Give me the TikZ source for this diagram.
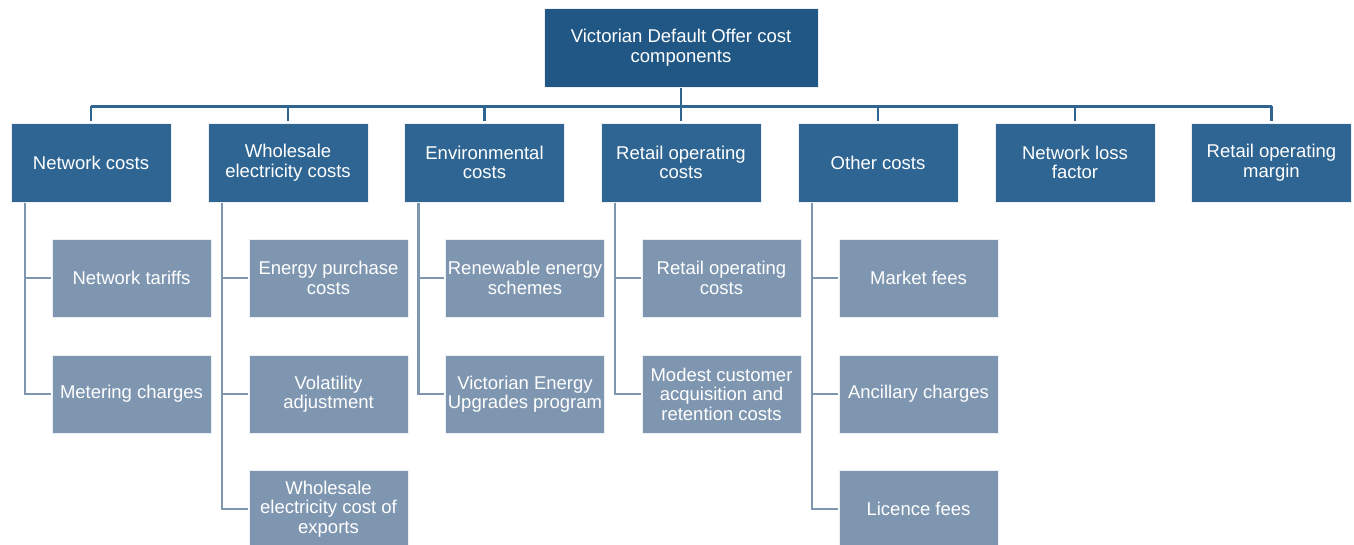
\documentclass[tikz,border=0pt]{standalone}
\usepackage{fontspec}
\setmainfont{Liberation Sans}
\usetikzlibrary{positioning}
\definecolor{rootblue}{HTML}{215784}
\definecolor{mainblue}{HTML}{2F6592}
\definecolor{subgrey}{HTML}{7F96B1}
\tikzset{
  boxtext/.style={font=\fontsize{18.5pt}{19.5pt}\selectfont, text=white, align=center,
    draw=white!85!subgrey, line width=0.6pt, inner sep=0pt, outer sep=1.5pt},
  rootbox/.style={boxtext, fill=rootblue, minimum width=274pt, minimum height=79pt},
  catbox/.style={boxtext, fill=mainblue, minimum width=160pt, minimum height=79pt},
  itembox/.style={boxtext, fill=subgrey, minimum width=159pt, minimum height=78pt},
  busline/.style={draw=mainblue, line width=2.6pt},
  leafline/.style={draw=subgrey, line width=2.4pt},
}
\begin{document}
\begin{tikzpicture}[x=1pt,y=-1pt]
\useasboundingbox (0,0) rectangle (1354,545);

% root
\node[rootbox] (root) at (681,47.5) {Victorian Default Offer cost\\components};

% cost categories
\node[catbox] (c1) at (91,162.5)   {Network costs};
\node[catbox] (c2) at (288,162.5)  {Wholesale\\electricity costs};
\node[catbox] (c3) at (484.5,162.5){Environmental\\costs};
\node[catbox] (c4) at (681,162.5)  {Retail operating\\costs};
\node[catbox] (c5) at (878,162.5)  {Other costs};
\node[catbox] (c6) at (1075,162.5) {Network loss\\factor};
\node[catbox] (c7) at (1271.5,162.5){Retail operating\\margin};

% items under each category
\node[itembox] (i11) at (131.5,278) {Network tariffs};
\node[itembox] (i12) at (131.5,394) {Metering charges};

\node[itembox] (i21) at (328.5,278) {Energy purchase\\costs};
\node[itembox] (i22) at (328.5,394) {Volatility\\adjustment};
\node[itembox] (i23) at (328.5,509) {Wholesale\\electricity cost of\\exports};

\node[itembox] (i31) at (525,278) {Renewable energy\\schemes};
\node[itembox] (i32) at (525,394) {Victorian Energy\\Upgrades program};

\node[itembox] (i41) at (721.5,278) {Retail operating\\costs};
\node[itembox] (i42) at (721.5,394) {Modest customer\\acquisition and\\retention costs};

\node[itembox] (i51) at (918.5,278) {Market fees};
\node[itembox] (i52) at (918.5,394) {Ancillary charges};
\node[itembox] (i53) at (918.5,509) {Licence fees};

% root to category bus
\draw[busline] (root.south) -- ++(0,18) coordinate (bus);
\draw[busline] (c1.north |- bus) -- (c7.north |- bus);
\foreach \c in {c1,c2,c3,c4,c5,c6,c7}
  \draw[busline] (\c.north |- bus) -- (\c.north);

% category to item spines
\foreach \c/\items in {c1/{i11,i12}, c2/{i21,i22,i23}, c3/{i31,i32},
                       c4/{i41,i42}, c5/{i51,i52,i53}}
  \foreach \i in \items
    \draw[leafline] ([xshift=15.5pt]\c.south west) |- (\i.west);
\end{tikzpicture}
\end{document}
